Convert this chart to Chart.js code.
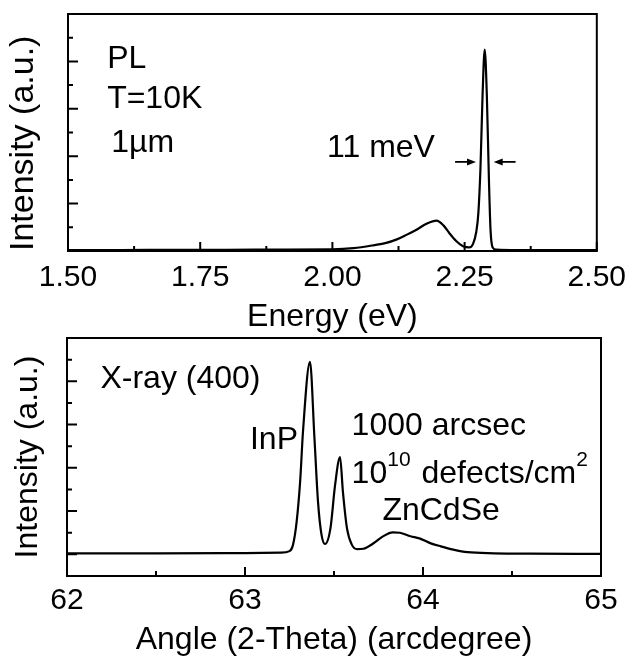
<!DOCTYPE html>
<html>
<head>
<meta charset="utf-8">
<script src="https://cdn.jsdelivr.net/npm/chart.js@4.4.1/dist/chart.umd.min.js"></script>
<style>
  body { margin: 0; background: #fff; }
  #wrap { position: relative; width: 635px; height: 656px; }
  canvas { position: absolute; left: 0; }
  #plChart { top: 0; }
  #xrChart { top: 333px; }
</style>
</head>
<body>
<div id="wrap">
  <canvas id="plChart" width="635" height="333"></canvas>
  <canvas id="xrChart" width="635" height="323"></canvas>
</div>
<script>
const FONT = '"Liberation Sans", Arial, Helvetica, sans-serif';

// PL spectrum, T=10K (top panel)
const plEnergy = [1.50, 1.60, 1.70, 1.80, 1.90, 2.00, 2.04, 2.08, 2.10, 2.122, 2.14, 2.159, 2.178, 2.197,
  2.21, 2.221, 2.234, 2.247, 2.259, 2.266, 2.272, 2.276, 2.280, 2.284, 2.288, 2.292, 2.296, 2.299, 2.303,
  2.31, 2.35, 2.40, 2.50];
const plIntensity = [0.04, 0.04, 0.05, 0.05, 0.06, 0.07, 0.12, 0.25, 0.33, 0.49, 0.68, 0.90, 1.15, 1.28,
  1.08, 0.76, 0.42, 0.20, 0.15, 0.30, 0.80, 1.60, 3.50, 6.60, 8.50, 6.60, 3.00, 0.90, 0.15,
  0.06, 0.04, 0.04, 0.04];
const plXTicks = [1.5, 1.625, 1.75, 1.875, 2.0, 2.125, 2.25, 2.375, 2.5];
const plXLabels = ['1.50', '', '1.75', '', '2.00', '', '2.25', '', '2.50'];
const plYMajor = [2, 4, 6, 8];
const plYMinor = [1, 3, 5, 7, 9];

// X-ray (400) scan (bottom panel)
const xrAngle = [62.0, 62.5, 63.0, 63.2, 63.25, 63.27, 63.29, 63.31, 63.326, 63.365, 63.39, 63.41, 63.43,
  63.45, 63.48, 63.506, 63.534, 63.55, 63.573, 63.60, 63.63, 63.665, 63.72, 63.775, 63.83, 63.87, 63.93,
  63.98, 64.04, 64.10, 64.17, 64.25, 64.40, 64.60, 65.0];
const xrIntensity = [0.05, 0.05, 0.06, 0.08, 0.15, 0.45, 1.5, 3.4, 5.7, 8.9, 5.4, 2.45, 0.9,
  0.48, 1.2, 3.2, 4.5, 2.9, 1.2, 0.45, 0.24, 0.26, 0.5, 0.83, 1.02, 1.0, 0.84,
  0.74, 0.52, 0.37, 0.22, 0.1, 0.05, 0.03, 0.02];
const xrXTicks = [62, 62.5, 63, 63.5, 64, 64.5, 65];
const xrXLabels = ['62', '', '63', '', '64', '', '65'];
const xrYMajor = [0, 2, 4, 6, 8];
const xrYMinor = [1, 3, 5, 7, 9];

// box round the plot area, with inward ticks
const frameTicks = {
  id: 'frameTicks',
  afterDraw(chart, args, opts) {
    const { ctx, chartArea: a, scales: { x, y } } = chart;
    ctx.save();
    ctx.strokeStyle = '#000';
    ctx.lineWidth = 2;
    ctx.strokeRect(a.left, a.top, a.right - a.left, a.bottom - a.top);
    ctx.beginPath();
    opts.xTicks.forEach((v, i) => {
      const px = x.getPixelForValue(v);
      const len = opts.xLabels[i] ? 9 : 5;
      ctx.moveTo(px, a.bottom);
      ctx.lineTo(px, a.bottom - len);
    });
    opts.yMajor.forEach((v) => {
      const py = y.getPixelForValue(v);
      ctx.moveTo(a.left, py);
      ctx.lineTo(a.left + 10, py);
    });
    opts.yMinor.forEach((v) => {
      const py = y.getPixelForValue(v);
      ctx.moveTo(a.left, py);
      ctx.lineTo(a.left + 5, py);
    });
    ctx.stroke();
    ctx.restore();
  }
};

// text labels and arrows inside the plot
const notes = {
  id: 'notes',
  afterDraw(chart, args, opts) {
    const { ctx, scales: { x, y } } = chart;
    ctx.save();
    ctx.fillStyle = '#000';
    ctx.strokeStyle = '#000';
    ctx.textAlign = 'left';
    ctx.textBaseline = 'alphabetic';
    opts.texts.forEach((t) => {
      let px = x.getPixelForValue(t.x);
      const py = y.getPixelForValue(t.y);
      t.parts.forEach((p) => {
        ctx.font = (p.sup ? opts.supSize : opts.size) + 'px ' + FONT;
        ctx.fillText(p.s, px, p.sup ? py - opts.rise : py);
        px += ctx.measureText(p.s).width + (p.sup ? 2 : 0);
      });
    });
    (opts.arrows || []).forEach((ar) => {
      const x0 = x.getPixelForValue(ar.from);
      const x1 = x.getPixelForValue(ar.to);
      const py = y.getPixelForValue(ar.y);
      const dir = Math.sign(x1 - x0);
      ctx.lineWidth = 1.8;
      ctx.beginPath();
      ctx.moveTo(x0, py);
      ctx.lineTo(x1 - dir * 5, py);
      ctx.stroke();
      ctx.beginPath();
      ctx.moveTo(x1, py);
      ctx.lineTo(x1 - dir * 9, py - 3.5);
      ctx.lineTo(x1 - dir * 9, py + 3.5);
      ctx.closePath();
      ctx.fill();
    });
    ctx.restore();
  }
};

function makeChart(id, cfg) {
  const ctx = document.getElementById(id).getContext('2d');
  return new Chart(ctx, {
    type: 'line',
    data: {
      datasets: [{
        data: cfg.xs.map((v, i) => ({ x: v, y: cfg.ys[i] })),
        borderColor: '#000',
        borderWidth: 2.2,
        pointRadius: 0,
        cubicInterpolationMode: 'monotone',
        fill: false,
      }],
    },
    options: {
      responsive: false,
      animation: false,
      layout: { padding: cfg.padding },
      plugins: {
        legend: { display: false },
        tooltip: { enabled: false },
        frameTicks: { xTicks: cfg.xTicks, xLabels: cfg.xLabels, yMajor: cfg.yMajor, yMinor: cfg.yMinor },
        notes: { texts: cfg.texts, arrows: cfg.arrows, size: 32, supSize: 21, rise: 17 },
      },
      scales: {
        x: {
          type: 'linear',
          min: cfg.xMin,
          max: cfg.xMax,
          afterBuildTicks: (s) => { s.ticks = cfg.xTicks.map((v) => ({ value: v })); },
          afterFit: (s) => { s.height = cfg.xHeight; },
          grid: { display: false, drawTicks: false },
          border: { display: false },
          ticks: {
            autoSkip: false,
            maxRotation: 0,
            padding: cfg.tickPad,
            color: '#000',
            font: { family: FONT, size: 30 },
            callback: (v, i) => cfg.xLabels[i],
          },
          title: {
            display: true,
            text: cfg.xTitle,
            color: '#000',
            font: { family: FONT, size: 32, lineHeight: 1 },
            padding: { top: 0, bottom: cfg.xTitlePad },
          },
        },
        y: {
          type: 'linear',
          min: cfg.yMin,
          max: cfg.yMax,
          afterFit: (s) => { s.width = cfg.yWidth; },
          grid: { display: false, drawTicks: false },
          border: { display: false },
          ticks: { display: false },
          title: {
            display: true,
            text: 'Intensity (a.u.)',
            color: '#000',
            align: cfg.yTitleAlign,
            font: { family: FONT, size: cfg.yTitleSize, lineHeight: 1 },
            padding: { top: cfg.yTitlePad, bottom: 0 },
          },
        },
      },
    },
    plugins: [frameTicks, notes],
  });
}

makeChart('plChart', {
  xs: plEnergy, ys: plIntensity,
  xMin: 1.5, xMax: 2.5, yMin: 0, yMax: 10,
  xTicks: plXTicks, xLabels: plXLabels, yMajor: plYMajor, yMinor: plYMinor,
  padding: { left: 0, right: 33, top: 14, bottom: 0 },
  xHeight: 82, yWidth: 68, tickPad: 9, xTitlePad: 0,
  xTitle: 'Energy (eV)',
  yTitleAlign: 'start', yTitleSize: 34, yTitlePad: 7,
  texts: [
    { x: 1.574, y: 7.72, parts: [{ s: 'PL' }] },
    { x: 1.574, y: 6.03, parts: [{ s: 'T=10K' }] },
    { x: 1.5816, y: 4.18, parts: [{ s: '1µm' }] },
    { x: 1.9899, y: 3.97, parts: [{ s: '11 meV' }] },
  ],
  arrows: [
    { from: 2.232, to: 2.2715, y: 3.76 },
    { from: 2.3464, to: 2.305, y: 3.76 },
  ],
});

makeChart('xrChart', {
  xs: xrAngle, ys: xrIntensity,
  xMin: 62, xMax: 65, yMin: -1, yMax: 10,
  xTicks: xrXTicks, xLabels: xrXLabels, yMajor: xrYMajor, yMinor: xrYMinor,
  padding: { left: 0, right: 34, top: 5, bottom: 0 },
  xHeight: 80, yWidth: 67, tickPad: 6.4, xTitlePad: 0,
  xTitle: 'Angle (2-Theta) (arcdegree)',
  yTitleAlign: 'center', yTitleSize: 32, yTitlePad: 12.6,
  texts: [
    { x: 62.188, y: 7.69, parts: [{ s: 'X-ray (400)' }] },
    { x: 63.028, y: 4.87, parts: [{ s: 'InP' }] },
    { x: 63.599, y: 5.52, parts: [{ s: '1000 arcsec' }] },
    { x: 63.599, y: 3.30, parts: [{ s: '10' }, { s: '10', sup: true }, { s: ' defects/cm' }, { s: '2', sup: true }] },
    { x: 63.772, y: 1.59, parts: [{ s: 'ZnCdSe' }] },
  ],
  arrows: [],
});
</script>
</body>
</html>
